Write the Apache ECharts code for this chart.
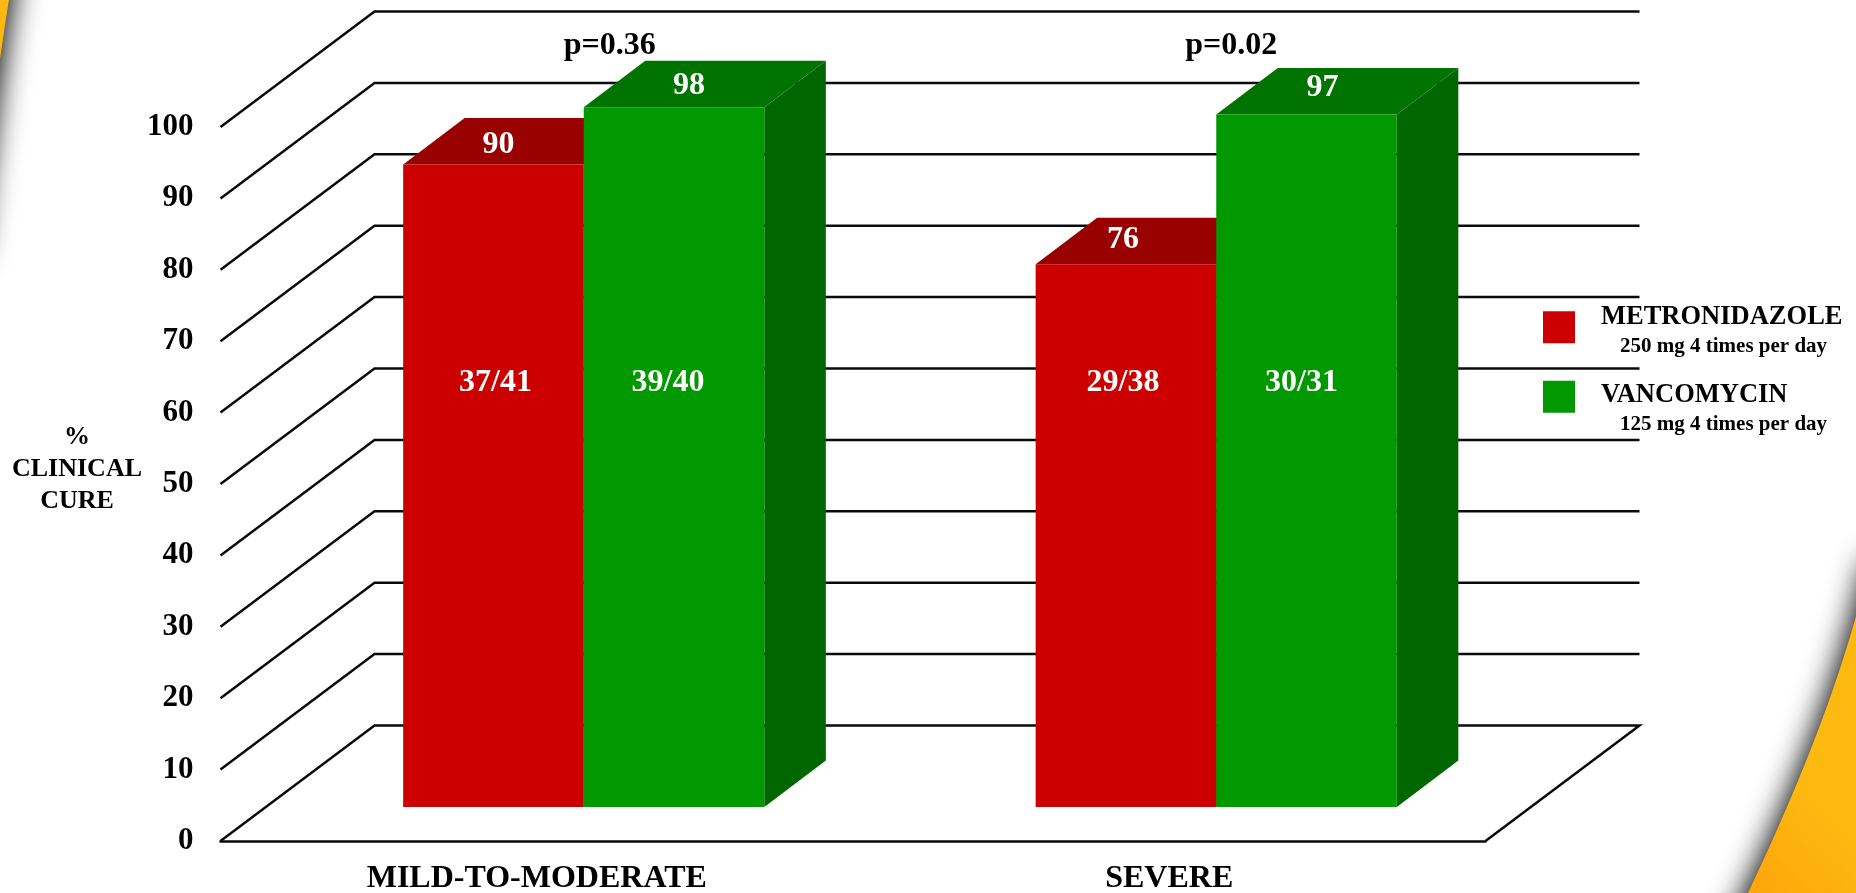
<!DOCTYPE html>
<html>
<head>
<meta charset="utf-8">
<title>Clinical cure by disease severity</title>
<style>html,body{margin:0;padding:0;background:#fff}#chart{width:1856px;height:893px}</style>
<script src="https://cdn.jsdelivr.net/npm/echarts@6/dist/echarts.min.js"></script>
</head>
<body>
<div id="chart"></div>
<script>
// Chart data
const categories = ['MILD-TO-MODERATE', 'SEVERE'];
const yTicks = [0, 10, 20, 30, 40, 50, 60, 70, 80, 90, 100];
const metronidazoleCure = [90, 76];
const vancomycinCure = [98, 97];
const metronidazoleCounts = ['37/41', '29/38'];
const vancomycinCounts = ['39/40', '30/31'];
const pValues = ['p=0.36', 'p=0.02'];
const drugNames = ['METRONIDAZOLE', 'VANCOMYCIN'];
const drugDoses = ['250 mg 4 times per day', '125 mg 4 times per day'];

// Pseudo-3D projection of the box and of the bars standing inside it
const FONT = '"Liberation Serif", "Times New Roman", serif';
const WALL_DX = 154, WALL_DY = 115.5;
const BAR_SHIFT_X = 47, BAR_SHIFT_Y = 34;
const BAR_DX = 61.5, BAR_DY = 46.5;
const BAR_WIDTH_RATIO = 0.2855;
const COUNT_LEVEL = 59.45;
const P_NUDGE_X = [73, 62];

const chart = echarts.init(document.getElementById('chart'), null, { renderer: 'canvas' });

function polygon(points, fill) {
  return { type: 'polygon', shape: { points }, style: { fill } };
}
function label(text, x, y, fill, size) {
  return {
    type: 'text',
    style: { text, x, y, fill, align: 'center', verticalAlign: 'middle', font: `bold ${size}px ${FONT}` }
  };
}

// Samples a quadratic curve into polygon points for the slide's corner swooshes
function swoosh(p0, c, p1, closing) {
  const pts = [];
  for (let k = 0; k <= 60; k++) {
    const t = k / 60, u = 1 - t;
    pts.push([
      u * u * p0[0] + 2 * u * t * c[0] + t * t * p1[0],
      u * u * p0[1] + 2 * u * t * c[1] + t * t * p1[1]
    ]);
  }
  return pts.concat(closing);
}

// One box series per drug; offset -1 puts the bar left of the centre line, 0 right of it
function barRenderer(side, counts, colors, topNudge, countNudge) {
  return function (params, api) {
    const i = api.value(0), v = api.value(1);
    const width = api.size([1, 0])[0] * BAR_WIDTH_RATIO;
    const xl = api.coord([i, 0])[0] + BAR_SHIFT_X + side * width;
    const xr = xl + width;
    const yBase = api.coord([i, 0])[1] - BAR_SHIFT_Y;
    const yTop = api.coord([i, v])[1] - BAR_SHIFT_Y;
    const yCount = api.coord([i, COUNT_LEVEL])[1] - BAR_SHIFT_Y;
    const xMid = xl + width / 2;
    return {
      type: 'group',
      children: [
        polygon([[xr, yBase], [xr + BAR_DX, yBase - BAR_DY], [xr + BAR_DX, yTop - BAR_DY], [xr, yTop]], colors.side),
        polygon([[xl, yTop], [xl + BAR_DX, yTop - BAR_DY], [xr + BAR_DX, yTop - BAR_DY], [xr, yTop]], colors.top),
        polygon([[xl, yBase], [xr, yBase], [xr, yTop], [xl, yTop]], colors.front),
        label(String(v), xMid + topNudge[params.dataIndex][0], yTop + topNudge[params.dataIndex][1], '#fff', 32),
        label(counts[params.dataIndex], xMid + countNudge[params.dataIndex], yCount, '#fff', 32)
      ]
    };
  };
}

// Each legend entry is placed on its own; a leading spacer line sets the caption's drop against the swatch
function legendEntry(index, top, spacer) {
  return {
    data: [drugNames[index]],
    orient: 'vertical',
    left: 1538,
    top,
    itemWidth: 32,
    itemHeight: 32,
    icon: 'rect',
    selectedMode: false,
    textStyle: {
      rich: {
        gap: { fontSize: 1, lineHeight: spacer },
        name: { fontFamily: FONT, fontWeight: 'bold', fontSize: 26.5, lineHeight: 29.5, color: '#000', padding: [0, 0, 0, 21] },
        dose: { fontFamily: FONT, fontWeight: 'bold', fontSize: 21, lineHeight: 29, color: '#000', padding: [0, 0, 0, 40] }
      }
    },
    formatter: n => `{gap| }\n{name|${n}}\n{dose|${drugDoses[index]}}`
  };
}

const option = {
  backgroundColor: '#ffffff',
  animation: false,
  title: {
    text: '%\nCLINICAL\nCURE',
    left: 72,
    top: 416.5,
    textAlign: 'center',
    textStyle: { fontFamily: FONT, fontWeight: 'bold', fontSize: 26, lineHeight: 32, color: '#000' }
  },
  grid: { left: 220.5, right: 1856 - 1485.5, top: 127, bottom: 893 - 841, outerBoundsMode: 'none' },
  xAxis: {
    type: 'category',
    data: categories,
    axisTick: { show: false },
    axisLine: { show: true, lineStyle: { color: '#0a0a0a', width: 2.5 } },
    axisLabel: { fontFamily: FONT, fontWeight: 'bold', fontSize: 32, color: '#000', margin: 22 }
  },
  yAxis: {
    type: 'value',
    min: 0,
    max: 100,
    interval: 10,
    axisLine: { show: false },
    axisTick: { show: false },
    splitLine: { show: false },
    axisLabel: { fontFamily: FONT, fontWeight: 'bold', fontSize: 31, color: '#000', margin: 27 }
  },
  legend: [
    legendEntry(0, 292.5, 9.5),
    legendEntry(1, 362, 26)
  ],
  graphic: [
    {
      type: 'polygon', silent: true, z: -1,
      shape: { points: swoosh([16, -40], [2, 30], [-26, 260], [[-200, 260], [-200, -40]]) },
      style: { fill: '#FCB711', shadowBlur: 30, shadowColor: 'rgba(0,0,0,1)', shadowOffsetX: 3 }
    },
    {
      type: 'polygon', silent: true, z: -1,
      shape: { points: swoosh([1870, 560], [1836.5, 716], [1725, 940], [[1990, 940], [1990, 560]]) },
      style: {
        fill: new echarts.graphic.LinearGradient(0, 1, 0.45, 0.7, [
          { offset: 0, color: '#FF9C08' },
          { offset: 1, color: '#FDB910' }
        ]),
        shadowBlur: 30, shadowColor: 'rgba(0,0,0,1)', shadowOffsetX: -3
      }
    }
  ],
  series: [
    {
      // Side wall and back wall rulings, plus the right edge of the floor
      type: 'custom',
      name: 'walls',
      data: yTicks.map(t => [0, t]),
      silent: true,
      renderItem(params, api) {
        const y = api.coord([0, api.value(1)])[1];
        const { x, width } = params.coordSys;
        const style = { stroke: '#0a0a0a', lineWidth: 2.5, fill: null };
        const pts = [[x, y], [x + WALL_DX, y - WALL_DY], [x + width + WALL_DX, y - WALL_DY]];
        if (api.value(1) === 0) pts.push([x + width, y]);
        return { type: 'polyline', shape: { points: pts }, style };
      }
    },
    {
      type: 'custom',
      name: drugNames[0],
      itemStyle: { color: '#CC0000' },
      data: metronidazoleCure.map((v, i) => [i, v]),
      silent: true,
      renderItem: barRenderer(-1, metronidazoleCounts,
        { front: '#CC0000', top: '#990000', side: '#880000' },
        [[5, -19.5], [-3, -24.5]], [2, -3])
    },
    {
      type: 'custom',
      name: drugNames[1],
      itemStyle: { color: '#009900' },
      data: vancomycinCure.map((v, i) => [i, v]),
      silent: true,
      renderItem: barRenderer(0, vancomycinCounts,
        { front: '#009900', top: '#007300', side: '#006600' },
        [[15, -21.5], [16, -26.5]], [-6, -5])
    },
    {
      // Significance of the difference, printed above each group
      type: 'custom',
      name: 'p',
      data: categories.map((c, i) => [i, 100]),
      silent: true,
      renderItem(params, api) {
        const [x, y] = api.coord([api.value(0), 100]);
        return label(pValues[params.dataIndex], x + P_NUDGE_X[params.dataIndex], y - 81, '#000', 32);
      }
    }
  ]
};

chart.setOption(option);
</script>
</body>
</html>
